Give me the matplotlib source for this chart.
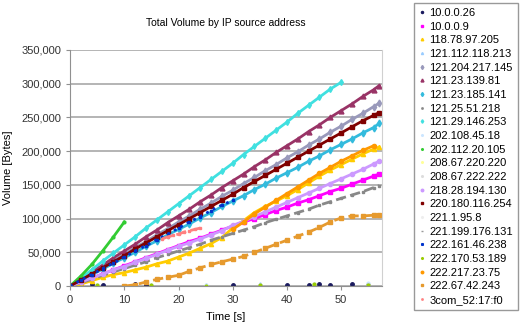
import numpy as np
import matplotlib
matplotlib.use("Agg")
import matplotlib.pyplot as plt

plt.rcParams['font.family'] = ['Liberation Sans', 'DejaVu Sans']

# time axis (s) used by most series
t2 = [0, 2, 4, 6, 8, 10, 12, 14, 16, 18, 20, 22, 24, 26, 28, 30, 32, 34, 36, 38,
      40, 42, 44, 46, 48, 50, 52, 54, 56, 57]

# volumes in kB
v_121_29_146_253 = [0, 12, 24, 37, 49, 61, 73, 86, 98, 110, 122, 134, 146, 158, 170,
                    182, 195, 207, 219, 231, 243, 256, 268, 280, 292, 302]
v_121_23_139_81 = [0, 10, 21, 31, 42, 52, 62, 73, 83, 94, 104, 114, 125, 135, 146, 156,
                   166, 177, 187, 198, 208, 218, 229, 239, 250, 260, 270, 281, 291, 297]
v_121_204_217_145 = [0, 9, 19, 28, 38, 47, 57, 66, 76, 85, 95, 104, 114, 123, 133, 142,
                     152, 161, 171, 180, 190, 199, 209, 218, 228, 237, 247, 256, 266, 271]
v_220_180_116_254 = [0, 9, 18, 27, 36, 45, 55, 64, 73, 82, 91, 100, 109, 118, 127, 136,
                     146, 155, 164, 173, 182, 191, 200, 209, 218, 227, 236, 245, 253, 257]
v_121_23_185_141 = [0, 8, 17, 25, 34, 42, 50, 59, 67, 76, 84, 92, 101, 109, 118, 126,
                    134, 143, 151, 160, 168, 176, 185, 193, 202, 210, 218, 227, 235, 241]
v_222_161_46_238 = [0, 9, 17, 26, 34, 43, 52, 60, 69, 77, 86, 95, 103, 112, 120, 127]
v_118_78_97_205 = [0, 3, 8, 13, 17, 20, 24, 28, 33, 37, 43, 49, 56, 63, 72, 86, 97, 109,
                   118, 126, 134, 143, 153, 163, 172, 180, 188, 196, 203, 206]
t_222_217_23_75 = [30, 32, 34, 36, 38, 40, 42, 44, 46, 48, 50, 52, 54, 56]
v_222_217_23_75 = [84, 95, 107, 117, 127, 137, 147, 157, 167, 176, 185, 193, 201, 208]
v_218_28_194_130 = [0, 6, 12, 18, 24, 29, 35, 41, 47, 53, 59, 64, 70, 76, 82, 90, 96, 103,
                    110, 117, 124, 131, 138, 145, 152, 159, 166, 173, 181, 185]
v_10_0_0_9 = [0, 6, 12, 18, 24, 30, 36, 42, 48, 54, 60, 66, 71, 77, 83, 89, 95, 100, 106,
              112, 117, 123, 128, 134, 140, 145, 151, 157, 163, 166]
v_121_25_51_218 = [0, 5, 10, 16, 21, 26, 31, 36, 42, 47, 52, 57, 62, 68, 73, 78, 83, 88,
                   94, 99, 104, 109, 114, 120, 125, 130, 135, 140, 146, 149]
t_222_67_42_243 = [10, 12, 14, 16, 18, 20, 22, 24, 26, 28, 30, 32, 34, 36, 38, 40, 42,
                   44, 46, 48, 50, 52, 54, 56, 57]
v_222_67_42_243 = [0, 2, 6, 10, 13, 16, 22, 27, 32, 36, 40, 44, 50, 56, 62, 68, 74, 80,
                   87, 95, 101, 104, 104, 105, 106]
t_202_112_20_105 = [0, 2, 4, 6, 8, 10]
v_202_112_20_105 = [0, 15, 32, 52, 73, 95]
t_3com = [17, 18, 19, 20, 21, 22, 23, 24]
v_3com = [70, 73, 75, 77, 80, 82, 84, 86]

# flows that stay near zero
t_10_0_0_26 = [2, 4, 6, 12, 14, 30, 40, 44, 46, 48, 52]
v_10_0_0_26 = [2, 2.5, 1, 3, 1, 1, 1.5, 2, 3, 2, 2.5]
t_low = [5, 15, 25, 35, 45, 55]
v_121_112_118_213 = [0.5, 1.5, 1, 3, 2, 3]
v_202_108_45_18 = [1, 0.5, 2, 1.5, 3, 4]
v_221_199_176_131 = [0.5, 1, 0.5, 2, 1.5, 2.5]
v_222_170_53_189 = [1, 2, 0.5, 1, 2.5, 1]

series = [
    ("10.0.0.26", t_10_0_0_26, v_10_0_0_26, "#1a1a5e", "o", "none", 2.5),
    ("10.0.0.9", t2, v_10_0_0_9, "#ff00ff", "s", "-", 3),
    ("118.78.97.205", t2, v_118_78_97_205, "#ffcc00", "^", "-", 3),
    ("121.112.118.213", t_low, v_121_112_118_213, "#99ccff", "^", "none", 2.5),
    ("121.204.217.145", t2, v_121_204_217_145, "#9999bb", "d", "-", 3.5),
    ("121.23.139.81", t2, v_121_23_139_81, "#993366", "^", "-", 3.5),
    ("121.23.185.141", t2, v_121_23_185_141, "#33bbdd", "d", "-", 3.5),
    ("121.25.51.218", t2, v_121_25_51_218, "#888888", "s", "--", 1.5),
    ("121.29.146.253", t2[:26], v_121_29_146_253, "#40e0e0", "d", "-", 3),
    ("202.108.45.18", t_low, v_202_108_45_18, "#cce6ff", "o", "none", 2),
    ("202.112.20.105", t_202_112_20_105, v_202_112_20_105, "#33cc33", "o", "-", 2),
    ("208.67.220.220", [], [], "#ffff99", "o", "none", 2),
    ("208.67.222.222", [], [], "#dddddd", "o", "none", 2),
    ("218.28.194.130", t2, v_218_28_194_130, "#cc99ff", "o", "-", 3),
    ("220.180.116.254", t2, v_220_180_116_254, "#800000", "s", "-", 3),
    ("221.1.95.8", [], [], "#eeeeee", "o", "none", 2),
    ("221.199.176.131", t_low, v_221_199_176_131, "#999999", "_", "none", 3),
    ("222.161.46.238", t2[:16], v_222_161_46_238, "#0033cc", "s", ":", 2),
    ("222.170.53.189", t_low, v_222_170_53_189, "#99cc00", "o", "none", 2),
    ("222.217.23.75", t_222_217_23_75, v_222_217_23_75, "#ff9900", "o", "-", 3),
    ("222.67.42.243", t_222_67_42_243, v_222_67_42_243, "#e69a2e", "s", "--", 2.5),
    ("3com_52:17:f0", t_3com, v_3com, "#ff8080", "s", "--", 1.5),
]

fig = plt.figure(figsize=(5.23, 3.35), dpi=100)
ax = fig.add_axes([0.134, 0.146, 0.596, 0.705])

for label, t, v, color, marker, ls, ms in series:
    ax.plot(t, np.array(v) * 1000, color=color, marker=marker, markersize=ms,
            linestyle=ls, linewidth=2, label=label)

ax.set_xlim(0, 57.5)
ax.set_ylim(0, 350000)
ax.set_xticks([0, 10, 20, 30, 40, 50])
ax.set_yticks(np.arange(0, 350001, 50000))
ax.yaxis.set_major_formatter(matplotlib.ticker.FuncFormatter(lambda y, p: f"{int(y):,}"))
ax.grid(axis="y", color="#a0a0a0", linewidth=1.1)
ax.set_axisbelow(True)
ax.spines["top"].set_visible(False)
ax.spines["left"].set_color("#909090")
ax.spines["bottom"].set_color("#909090")
ax.spines["right"].set_color("#d0d0d0")
ax.tick_params(labelsize=8, colors="#333333", length=3, width=0.8)
ax.tick_params(axis="both", color="#909090")

ax.set_title("Total Volume by IP source address", fontsize=7.5, pad=17)
ax.set_xlabel("Time [s]", fontsize=8, labelpad=5)
ax.set_ylabel("Volume [Bytes]", fontsize=8, labelpad=6)

leg = fig.legend(loc="upper left", bbox_to_anchor=(0.792, 0.991), fontsize=8,
                 frameon=True, fancybox=False, edgecolor="#808080", handlelength=0.5,
                 handletextpad=0.4, labelspacing=0.33, borderpad=0.45,
                 borderaxespad=0, markerscale=0.6)
for h in leg.legend_handles:
    h.set_linestyle("none")

fig.savefig("out.png", dpi=100)
